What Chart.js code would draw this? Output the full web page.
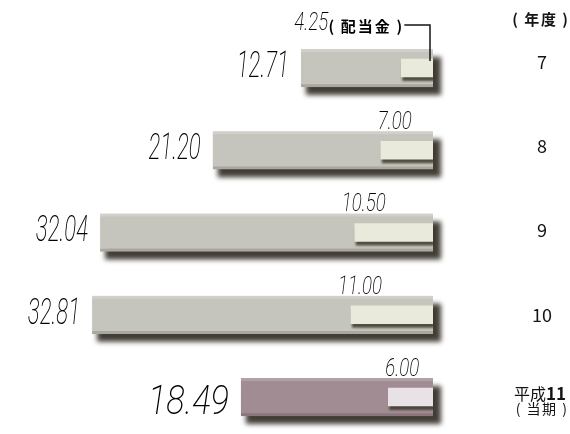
<!DOCTYPE html>
<html>
<head>
<meta charset="utf-8">
<script src="https://cdn.jsdelivr.net/npm/chart.js@4/dist/chart.umd.min.js"></script>
<style>
html,body{margin:0;padding:0;background:#fff;}
#wrap{width:570px;height:434px;position:relative;}
</style>
</head>
<body>
<div id="wrap"><canvas id="c"></canvas></div>
<script>
// ---- data ----
const categories = ['7', '8', '9', '10', '平成11'];
const epsValues = [12.71, 21.20, 32.04, 32.81, 18.49];
const dividendValues = [4.25, 7.00, 10.50, 11.00, 6.00];
const epsLabels = ['12.71', '21.20', '32.04', '32.81', '18.49'];
const dividendLabels = ['4.25', '7.00', '10.50', '11.00', '6.00'];
const headerChars = ['(', '年', '度', ')'];
const dividendTitleChars = ['(', '配', '当', '金', ')'];
const currentSuffixChars = ['(', '当', '期', ')'];

const mainGray = '#c6c5bd', mainMauve = '#a08c92';
const innerCream = '#e9e9dc', innerPink = '#e8e1e5';
const last = categories.length - 1;

const numFont = "'Roboto', 'Liberation Sans', sans-serif";
const jpFont = "'Noto Sans CJK JP', sans-serif";

const shadowPlugin = {
  id: 'barShadows',
  beforeDatasetDraw(chart, args) {
    const ctx = chart.ctx;
    const meta = args.meta;
    const isMain = meta.index === 1;
    ctx.save();
    ctx.filter = isMain ? 'blur(2.5px)' : 'blur(1px)';
    ctx.fillStyle = isMain ? 'rgba(45,40,32,0.9)' : 'rgba(60,55,45,0.85)';
    meta.data.forEach(el => {
      const p = el.getProps(['x', 'y', 'base', 'height'], true);
      const left = Math.min(p.x, p.base), right = Math.max(p.x, p.base);
      const top = p.y - p.height / 2;
      if (isMain) ctx.fillRect(left + 5, top + 8, right - left + 3, p.height);
      else ctx.fillRect(left + 1, top + 4, right - left, p.height);
    });
    ctx.restore();
  }
};

// subtle lighter strip along the top of each main bar face
const highlightPlugin = {
  id: 'barHighlight',
  afterDatasetDraw(chart, args) {
    if (args.meta.index !== 1) return;
    const ctx = chart.ctx;
    ctx.save();
    ctx.fillStyle = 'rgba(255,255,255,0.18)';
    args.meta.data.forEach(el => {
      const p = el.getProps(['x', 'y', 'base', 'height'], true);
      const left = Math.min(p.x, p.base), right = Math.max(p.x, p.base);
      ctx.fillRect(left, p.y - p.height / 2, right - left, 3);
    });
    ctx.restore();
  }
};

function condensed(ctx, text, x, y, sx, align) {
  ctx.save();
  ctx.translate(x, y);
  ctx.scale(sx, 1);
  ctx.textAlign = align;
  ctx.fillText(text, 0, 0);
  ctx.restore();
}

// draws characters on fixed advance, starting at first char centre x0
function spaced(ctx, chars, x0, y, adv) {
  ctx.save();
  ctx.textAlign = 'center';
  chars.forEach((c, k) => ctx.fillText(c, x0 + k * adv, y));
  ctx.restore();
}

const labelPlugin = {
  id: 'labels',
  afterDatasetsDraw(chart) {
    const ctx = chart.ctx;
    const xs = chart.scales.x, x2 = chart.scales.x2, ys = chart.scales.y;
    const area = chart.chartArea;
    ctx.save();
    ctx.fillStyle = '#000000';
    ctx.textBaseline = 'alphabetic';
    categories.forEach((cat, i) => {
      const cy = ys.getPixelForValue(i);
      // EPS label
      const big = i === last;
      ctx.font = 'italic 200 ' + (big ? 40 : 37) + 'px ' + numFont;
      const ex = xs.getPixelForValue(epsValues[i]) - 12;
      condensed(ctx, epsLabels[i], ex, cy + (big ? 17 : 9), big ? 0.86 : 0.6, 'right');
      // dividend label
      ctx.font = 'italic 200 26px ' + numFont;
      if (i === 0) {
        const lx = x2.getPixelForValue(dividendValues[i]) - 73;
        condensed(ctx, dividendLabels[i], lx, cy - 38, 0.72, 'right');
        ctx.font = 'bold 15px ' + jpFont;
        ctx.textBaseline = 'middle';
        spaced(ctx, dividendTitleChars, lx + 3, cy - 42, 17);
        ctx.textBaseline = 'alphabetic';
        // leader line
        const vx = x2.getPixelForValue(0) - 3;
        ctx.strokeStyle = '#141414';
        ctx.lineWidth = 1.5;
        ctx.beginPath();
        ctx.moveTo(lx + 3 + 4 * 17 + 5, cy - 43);
        ctx.lineTo(vx, cy - 43);
        ctx.lineTo(vx, cy - 7);
        ctx.stroke();
      } else {
        const rx = x2.getPixelForValue(dividendValues[i]) + 31;
        condensed(ctx, dividendLabels[i], rx, cy - 21, 0.72, 'right');
      }
      // year label
      ctx.fillStyle = '#141414';
      const yx = area.right + 109;
      ctx.textBaseline = 'middle';
      ctx.textAlign = 'center';
      if (i < last) {
        ctx.font = '18px ' + jpFont;
        ctx.fillText(cat, yx, cy - 6 + i * 2);
      } else {
        const pre = cat.replace(/[0-9]+$/, '');
        const num = cat.slice(pre.length);
        ctx.font = '16px ' + jpFont;
        const w1 = ctx.measureText(pre).width;
        ctx.font = 'bold 17px ' + jpFont;
        const w2 = ctx.measureText(num).width;
        const sx = 540 - (w1 + w2) / 2;
        ctx.textAlign = 'left';
        ctx.font = '16px ' + jpFont;
        ctx.fillText(pre, sx, cy - 3);
        ctx.font = 'bold 17px ' + jpFont;
        ctx.fillText(num, sx + w1, cy - 3);
        ctx.font = '14px ' + jpFont;
        spaced(ctx, currentSuffixChars, 518, cy + 12, 15.5);
      }
      ctx.textBaseline = 'alphabetic';
      ctx.fillStyle = '#000000';
    });
    // header
    ctx.fillStyle = '#141414';
    ctx.font = 'bold 15px ' + jpFont;
    ctx.textBaseline = 'middle';
    spaced(ctx, headerChars, area.right + 82, 19, 16.7);
    ctx.restore();
  }
};

new Chart(document.getElementById('c'), {
  type: 'bar',
  data: {
    labels: categories,
    datasets: [
      {
        label: '配当金',
        data: dividendValues.map((v, i) => ({ x: v, y: i })),
        xAxisID: 'x2',
        yAxisID: 'y',
        backgroundColor: dividendValues.map((v, i) => i === last ? innerPink : innerCream),
        borderWidth: 0,
        barThickness: 18,
        grouped: false,
        order: 1
      },
      {
        label: 'EPS',
        data: epsValues.map((v, i) => ({ x: v, y: i })),
        xAxisID: 'x',
        yAxisID: 'y',
        backgroundColor: epsValues.map((v, i) => i === last ? mainMauve : mainGray),
        borderColor: epsValues.map((v, i) => i === last ? '#8a767c' : '#a9a79e'),
        borderWidth: { top: 0, bottom: 3, left: 0, right: 0 },
        borderSkipped: false,
        barThickness: 38,
        grouped: false,
        order: 2
      }
    ]
  },
  options: {
    indexAxis: 'y',
    responsive: true,
    maintainAspectRatio: false,
    animation: false,
    layout: { padding: { left: 0, right: 137, top: 0, bottom: 0 } },
    plugins: { legend: { display: false }, tooltip: { enabled: false } },
    scales: {
      x: { type: 'linear', min: 0, max: 41.67, reverse: true, display: false, offset: false },
      x2: { type: 'linear', min: 0, max: 58.1, reverse: true, display: false, offset: false },
      y: { type: 'linear', min: -0.8267, max: 4.4499, reverse: true, display: false, offset: false, bounds: 'data' }
    }
  },
  plugins: [shadowPlugin, highlightPlugin, labelPlugin]
});
</script>
</body>
</html>
